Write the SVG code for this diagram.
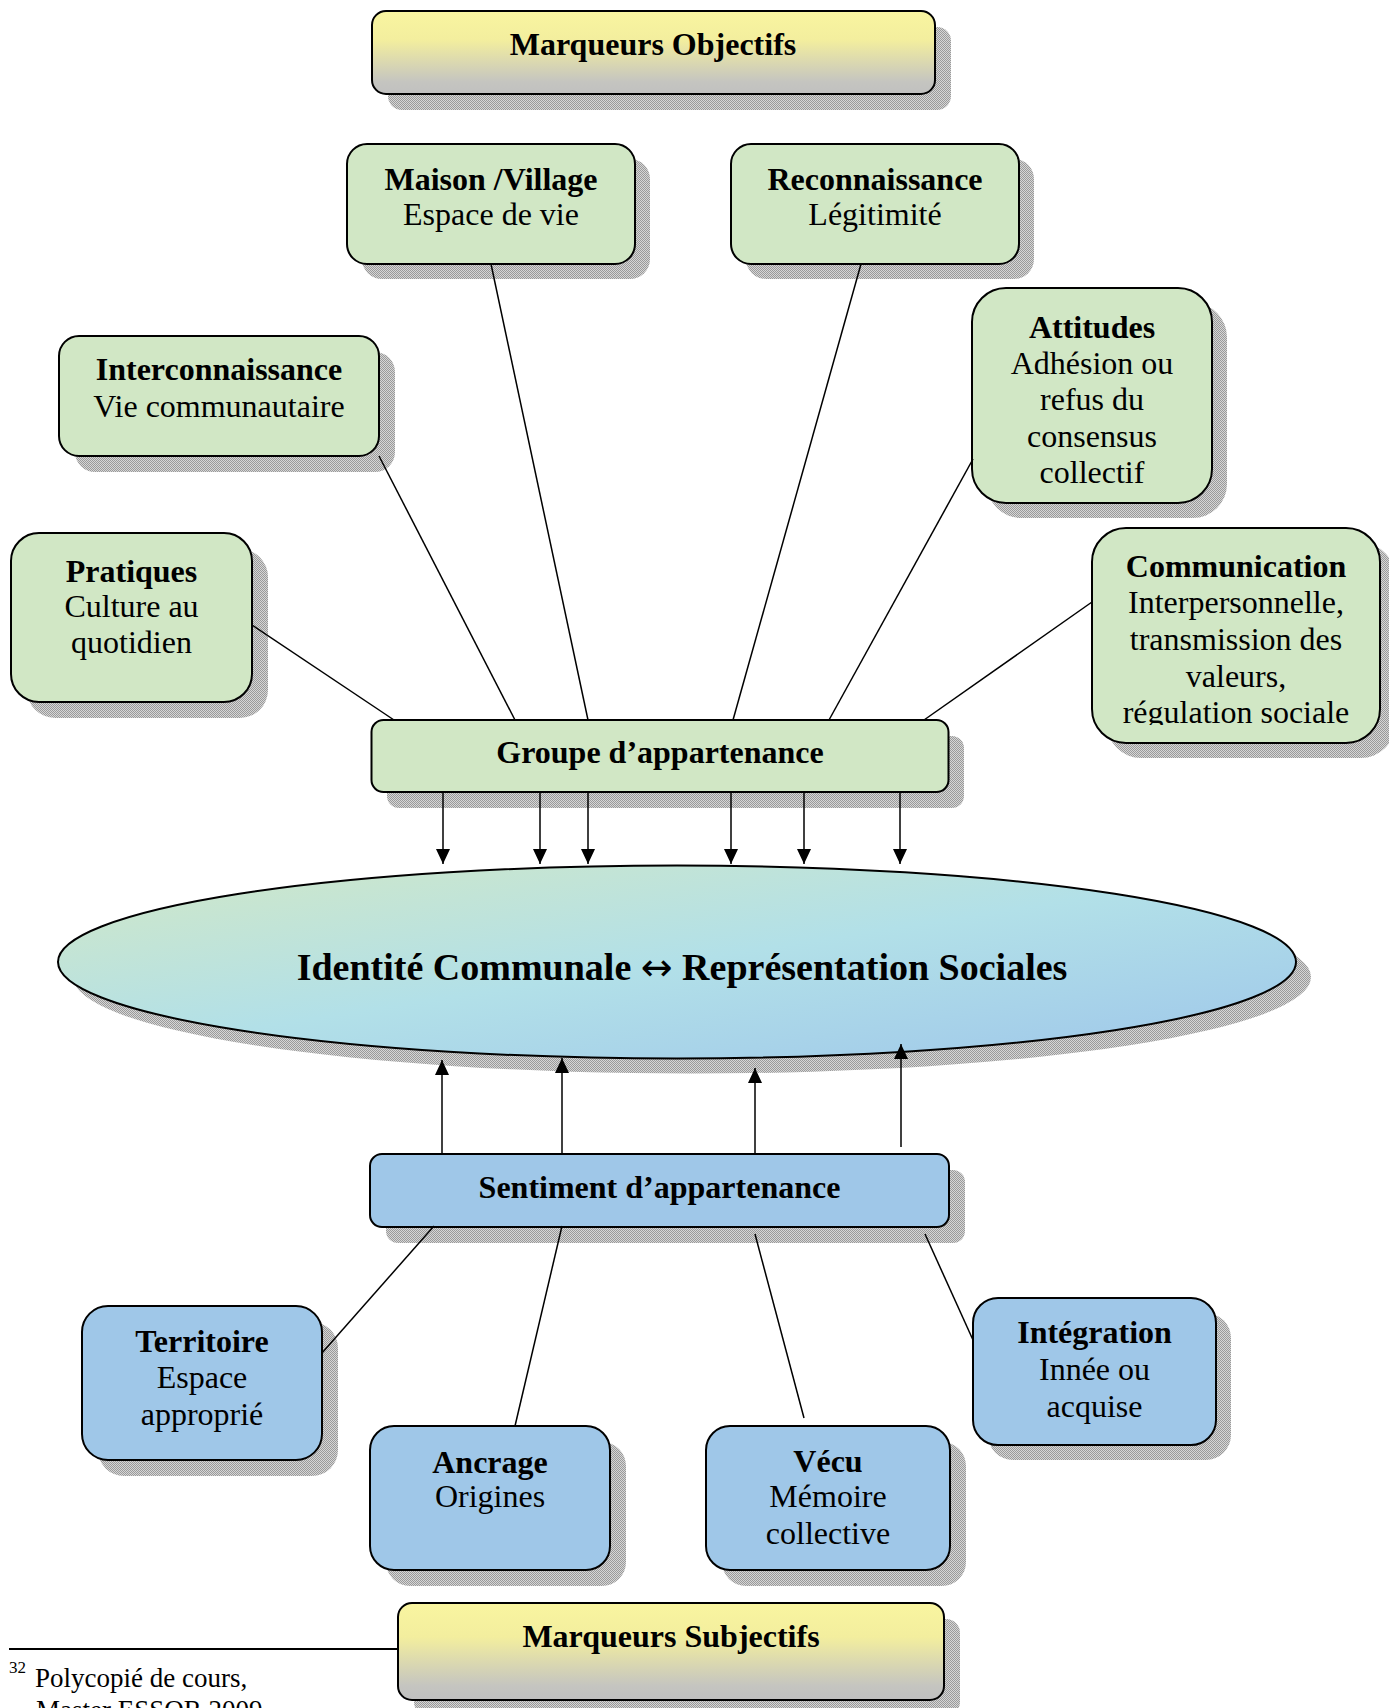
<svg xmlns="http://www.w3.org/2000/svg" width="1389" height="1708" viewBox="0 0 1389 1708">
<defs>
<style>
.t{font-family:"Liberation Serif","Times New Roman",serif;font-size:32px;fill:#000;text-anchor:middle}
.b{font-weight:bold}
.box{stroke:#000;stroke-width:2}
.g{fill:#d1e7c5}
.bl{fill:#9fc7e8}
.y{fill:url(#yel)}
.sh{fill:url(#dots)}
.ln{stroke:#000;stroke-width:1.5;fill:none}
.ar{stroke:#000;stroke-width:1.5;fill:none;marker-end:url(#ah)}
.fn{font-family:"Liberation Serif","Times New Roman",serif;font-size:27px;fill:#000}
</style>
<pattern id="dots" width="2" height="2" patternUnits="userSpaceOnUse">
<rect width="2" height="2" fill="#d6d6d6"/>
<rect width="1" height="1" fill="#9a9a9a"/>
<rect x="1" y="1" width="1" height="1" fill="#9a9a9a"/>
</pattern>
<linearGradient id="yel" x1="0" y1="0" x2="0" y2="1">
<stop offset="0" stop-color="#f9f5a0"/>
<stop offset="0.35" stop-color="#f3ee9e"/>
<stop offset="0.85" stop-color="#c5c5c0"/>
<stop offset="1" stop-color="#c0c0c0"/>
</linearGradient>
<linearGradient id="ell" x1="0" y1="0" x2="1" y2="1">
<stop offset="0" stop-color="#d2e8c6"/>
<stop offset="0.5" stop-color="#b2e0e8"/>
<stop offset="1" stop-color="#9ec6ea"/>
</linearGradient>
<marker id="ah" viewBox="0 0 15 14" refX="15" refY="7" markerWidth="15" markerHeight="14" markerUnits="userSpaceOnUse" orient="auto">
<path d="M0,0 L15,7 L0,14 z" fill="#000"/>
</marker>
<clipPath id="commClip"><rect x="1092" y="528" width="288" height="197"/></clipPath>
</defs>
<rect width="1389" height="1708" fill="#fff"/>

<g id="marqueurs-objectifs">
<rect class="sh" x="388" y="27" width="563" height="83" rx="14"/>
<rect class="box y" x="372" y="11" width="563" height="83" rx="14"/>
<text class="t b" x="653" y="55">Marqueurs Objectifs</text>
</g>

<g id="maison-village">
<rect class="sh" x="362" y="159" width="288" height="120" rx="20"/>
<rect class="box g" x="347" y="144" width="288" height="120" rx="20"/>
<text class="t b" x="491" y="190">Maison /Village</text>
<text class="t" x="491" y="225">Espace de vie</text>
</g>

<g id="reconnaissance">
<rect class="sh" x="746" y="159" width="288" height="120" rx="20"/>
<rect class="box g" x="731" y="144" width="288" height="120" rx="20"/>
<text class="t b" x="875" y="190">Reconnaissance</text>
<text class="t" x="875" y="225">Légitimité</text>
</g>

<g id="interconnaissance">
<rect class="sh" x="75" y="352" width="320" height="120" rx="20"/>
<rect class="box g" x="59" y="336" width="320" height="120" rx="20"/>
<text class="t b" x="219" y="380">Interconnaissance</text>
<text class="t" x="219" y="417">Vie communautaire</text>
</g>

<g id="attitudes">
<rect class="sh" x="987" y="303" width="240" height="215" rx="34"/>
<rect class="box g" x="972" y="288" width="240" height="215" rx="34"/>
<text class="t b" x="1092" y="338">Attitudes</text>
<text class="t" x="1092" y="374">Adhésion ou</text>
<text class="t" x="1092" y="410">refus du</text>
<text class="t" x="1092" y="447">consensus</text>
<text class="t" x="1092" y="483">collectif</text>
</g>

<g id="pratiques">
<rect class="sh" x="27" y="549" width="241" height="169" rx="28"/>
<rect class="box g" x="11" y="533" width="241" height="169" rx="28"/>
<text class="t b" x="131.5" y="582">Pratiques</text>
<text class="t" x="131.5" y="617">Culture au</text>
<text class="t" x="131.5" y="653">quotidien</text>
</g>

<g id="communication">
<rect class="sh" x="1107" y="543" width="288" height="215" rx="34"/>
<rect class="box g" x="1092" y="528" width="288" height="215" rx="34"/>
<g clip-path="url(#commClip)">
<text class="t b" x="1236" y="577">Communication</text>
<text class="t" x="1236" y="613">Interpersonnelle,</text>
<text class="t" x="1236" y="650">transmission des</text>
<text class="t" x="1236" y="687">valeurs,</text>
<text class="t" x="1236" y="723">régulation sociale</text>
</g>
</g>

<g id="groupe-appartenance">
<rect class="sh" x="387" y="736" width="577" height="72" rx="12"/>
<rect class="box g" x="371.5" y="720" width="577" height="72" rx="12"/>
<text class="t b" x="660" y="763">Groupe d’appartenance</text>
</g>

<g id="identite-communale">
<ellipse class="sh" cx="692" cy="977" rx="619" ry="96.5"/>
<ellipse class="box" fill="url(#ell)" cx="677" cy="962" rx="619" ry="96.5"/>
<text class="t b" x="682" y="980" style="font-size:38px">Identité Communale <tspan style="font-family:'DejaVu Sans',sans-serif;font-weight:normal;font-size:38px">↔</tspan> Représentation Sociales</text>
</g>

<g id="sentiment-appartenance">
<rect class="sh" x="386" y="1170" width="579" height="73" rx="12"/>
<rect class="box bl" x="370" y="1154" width="579" height="73" rx="12"/>
<text class="t b" x="659.5" y="1198">Sentiment d’appartenance</text>
</g>

<g id="territoire">
<rect class="sh" x="98" y="1322" width="240" height="154" rx="26"/>
<rect class="box bl" x="82" y="1306" width="240" height="154" rx="26"/>
<text class="t b" x="202" y="1352">Territoire</text>
<text class="t" x="202" y="1388">Espace</text>
<text class="t" x="202" y="1425">approprié</text>
</g>

<g id="integration">
<rect class="sh" x="988" y="1313" width="243" height="147" rx="25"/>
<rect class="box bl" x="973" y="1298" width="243" height="147" rx="25"/>
<text class="t b" x="1094.5" y="1343">Intégration</text>
<text class="t" x="1094.5" y="1380">Innée ou</text>
<text class="t" x="1094.5" y="1417">acquise</text>
</g>

<g id="ancrage">
<rect class="sh" x="386" y="1442" width="240" height="144" rx="24"/>
<rect class="box bl" x="370" y="1426" width="240" height="144" rx="24"/>
<text class="t b" x="490" y="1473">Ancrage</text>
<text class="t" x="490" y="1507">Origines</text>
</g>

<g id="vecu">
<rect class="sh" x="722" y="1442" width="244" height="144" rx="24"/>
<rect class="box bl" x="706" y="1426" width="244" height="144" rx="24"/>
<text class="t b" x="828" y="1472">Vécu</text>
<text class="t" x="828" y="1507">Mémoire</text>
<text class="t" x="828" y="1544">collective</text>
</g>

<g id="marqueurs-subjectifs">
<rect class="sh" x="414" y="1619" width="546" height="97" rx="14"/>
<rect class="box y" x="398" y="1603" width="546" height="97" rx="14"/>
<text class="t b" x="671" y="1647">Marqueurs Subjectifs</text>
</g>

<g id="connectors">
<line class="ln" x1="491" y1="264" x2="588" y2="720"/>
<line class="ln" x1="861" y1="264" x2="733" y2="720"/>
<line class="ln" x1="379" y1="456" x2="515" y2="720"/>
<line class="ln" x1="973" y1="459" x2="829" y2="720"/>
<line class="ln" x1="252" y1="625" x2="394" y2="720"/>
<line class="ln" x1="1092" y1="602" x2="924" y2="720"/>
<line class="ar" x1="443" y1="792" x2="443" y2="864"/>
<line class="ar" x1="540" y1="792" x2="540" y2="864"/>
<line class="ar" x1="588" y1="792" x2="588" y2="864"/>
<line class="ar" x1="731" y1="792" x2="731" y2="864"/>
<line class="ar" x1="804" y1="792" x2="804" y2="864"/>
<line class="ar" x1="900" y1="792" x2="900" y2="864"/>
<line class="ar" x1="442" y1="1154" x2="442" y2="1060"/>
<line class="ar" x1="562" y1="1154" x2="562" y2="1058"/>
<line class="ar" x1="755" y1="1154" x2="755" y2="1068"/>
<line class="ar" x1="901" y1="1147" x2="901" y2="1044"/>
<line class="ln" x1="322" y1="1353" x2="434" y2="1226"/>
<line class="ln" x1="515" y1="1426" x2="562" y2="1226"/>
<line class="ln" x1="755" y1="1234" x2="804" y2="1418"/>
<line class="ln" x1="925" y1="1234" x2="973" y2="1340"/>
</g>

<g id="footnote">
<line x1="9" y1="1649" x2="398" y2="1649" stroke="#000" stroke-width="2"/>
<text class="fn" x="9" y="1673" style="font-size:17px">32</text>
<text class="fn" x="35" y="1687">Polycopié de cours,</text>
<text class="fn" x="36" y="1719">Master ESSOR 2009</text>
</g>
</svg>
